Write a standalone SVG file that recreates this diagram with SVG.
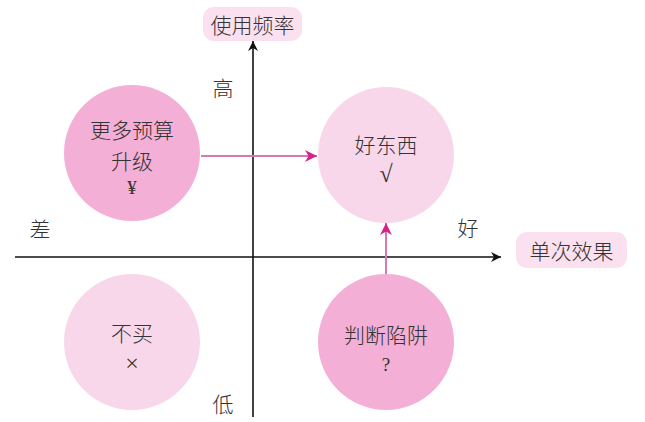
<svg xmlns="http://www.w3.org/2000/svg" width="645" height="422" viewBox="0 0 645 422">
<style>
.t{font-family:"Noto Sans CJK SC","Liberation Serif",serif;fill:#333;text-anchor:middle;dominant-baseline:central;font-size:21px;font-weight:300}
.s{font-family:"Liberation Serif",serif}
.dark{fill:#f4afd6}
.light{fill:#f9d7ea}
.lbl{fill:#fbe1ef}
.ax{stroke:#111;stroke-width:1.6;fill:none}
.cn{stroke:#d37ab4;stroke-width:2;fill:none}
</style>
<defs>
<marker id="ah" viewBox="0 0 10 10" refX="10" refY="5" markerWidth="10" markerHeight="10" markerUnits="userSpaceOnUse" orient="auto"><path d="M0,0 L10,5 L0,10 L3,5 Z" fill="#111"/></marker>
<marker id="mh" viewBox="0 0 10 10" refX="10" refY="5" markerWidth="14" markerHeight="12" markerUnits="userSpaceOnUse" orient="auto"><path d="M0,0 L10,5 L0,10 L3,5 Z" fill="#d4238a"/></marker>
</defs>
<rect width="645" height="422" fill="#fff"/>
<g id="axes">
<line class="ax" x1="253" y1="417" x2="253" y2="41" marker-end="url(#ah)"/>
<line class="ax" x1="15" y1="257" x2="501" y2="257" marker-end="url(#ah)"/>
</g>
<g id="label-y"><rect class="lbl" x="203" y="7" width="99" height="34" rx="11"/><text class="t" x="252.5" y="24">使用频率</text></g>
<g id="label-x"><rect class="lbl" x="516" y="232" width="111" height="36" rx="11"/><text class="t" x="571.5" y="250">单次效果</text></g>
<g id="axis-texts">
<text class="t" x="223" y="87">高</text>
<text class="t" x="223" y="403">低</text>
<text class="t" x="40" y="228">差</text>
<text class="t" x="468" y="227">好</text>
</g>
<g id="node-upgrade"><circle class="dark" cx="132" cy="153" r="68"/><text class="t" x="132" y="129">更多预算</text><text class="t" x="132" y="160">升级</text><text class="t s" x="132" y="187" style="font-size:19px">¥</text></g>
<g id="node-good"><circle class="light" cx="386" cy="155" r="68"/><text class="t" x="386" y="144">好东西</text><text class="t s" x="386" y="174" style="font-size:24px">√</text></g>
<g id="node-nobuy"><circle class="light" cx="132" cy="342" r="68"/><text class="t" x="132" y="332">不买</text><text class="t s" x="132" y="363" style="font-size:24px">×</text></g>
<g id="node-trap"><circle class="dark" cx="386" cy="342" r="68"/><text class="t" x="386" y="334">判断陷阱</text><text class="t s" x="386" y="364" style="font-size:19px">?</text></g>
<g id="connectors">
<line class="cn" x1="201" y1="156" x2="317" y2="156" marker-end="url(#mh)"/>
<line class="cn" x1="386" y1="274" x2="386" y2="223" marker-end="url(#mh)"/>
</g>
</svg>
